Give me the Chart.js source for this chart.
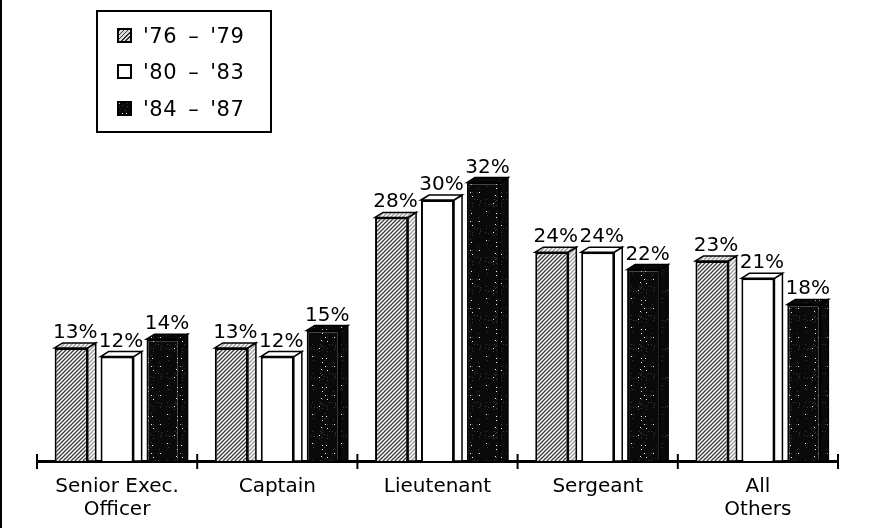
<!DOCTYPE html>
<html><head><meta charset="utf-8">
<script src="https://cdn.jsdelivr.net/npm/chart.js@4.4.0/dist/chart.umd.min.js"></script>
<style>
html,body{margin:0;padding:0;background:#fff;}
#wrap{position:relative;width:875px;height:528px;overflow:hidden;}
#edge{position:absolute;left:0;top:0;width:2px;height:528px;background:#000;}
#legend{position:absolute;left:96px;top:10px;width:176px;height:123px;box-sizing:border-box;border:2px solid #000;font-family:"DejaVu Sans",sans-serif;font-size:21px;color:#000;}
.row{position:absolute;left:19px;height:24px;width:150px;}
.sw{position:absolute;left:0;top:4px;width:11px;height:11px;border:2px solid #000;}
.tx{position:absolute;left:26px;top:0;line-height:24px;white-space:nowrap;letter-spacing:0.5px;word-spacing:4px;}
</style></head>
<body><div id="wrap"><canvas id="c" width="875" height="528"></canvas><div id="edge"></div><div id="legend"></div></div>
<script>
const categories = [["Senior Exec.","Officer"],"Captain","Lieutenant","Sergeant",["All","Others"]];
const seriesNames = ["'76 – '79","'80 – '83","'84 – '87"];
const values7679 = [13,13,28,24,23];
const values8083 = [12,12,30,24,21];
const values8487 = [14,15,32,22,18];

function hatchPattern(bg, line){
  const c=document.createElement('canvas'); c.width=c.height=4;
  const g=c.getContext('2d'); g.fillStyle=bg; g.fillRect(0,0,4,4);
  g.strokeStyle=line; g.lineWidth=1.3; g.beginPath();
  g.moveTo(0,4); g.lineTo(4,0); g.moveTo(-1,1); g.lineTo(1,-1); g.moveTo(3,5); g.lineTo(5,3); g.stroke();
  return g.createPattern(c,'repeat');
}
function stippleCanvas(){
  const n=29;
  const c=document.createElement('canvas'); c.width=c.height=n;
  const g=c.getContext('2d'); g.fillStyle='#0a0a0a'; g.fillRect(0,0,n,n);
  for(let i=0;i<n;i++){for(let j=0;j<n;j++){
    const k=(i*i*13+j*j*7+i*j*5+i*3)%61;
    if(k===0){g.fillStyle='#f0f0f0';g.fillRect(i,j,1,1);}
    else if(k<3){g.fillStyle='#3c3c3c';g.fillRect(i,j,1,1);}
  }}
  return c;
}
const stip=stippleCanvas();
const stipPat=stip.getContext('2d').createPattern(stip,'repeat');
const fronts=[hatchPattern('#fff','#3a3a3a'), '#ffffff', stipPat];
const sides=[hatchPattern('#fff','#999'), '#ffffff', stipPat];

// legend
const leg=document.getElementById('legend');
const swBg=["repeating-linear-gradient(135deg,#333 0 1px,#ddd 1px 3px)","#fff","url("+stip.toDataURL()+")"];
seriesNames.forEach((n,i)=>{
  const r=document.createElement('div'); r.className='row'; r.style.top=(11.5+i*36.5)+'px';
  const s=document.createElement('span'); s.className='sw'; s.style.background=swBg[i];
  const t=document.createElement('span'); t.className='tx'; t.textContent=n;
  r.appendChild(s); r.appendChild(t); leg.appendChild(r);
});

const DX=8, DY=5;
const bar3d={
  id:'bar3d',
  afterDatasetsDraw(chart){
    const ctx=chart.ctx;
    chart.data.datasets.forEach((ds,di)=>{
      const meta=chart.getDatasetMeta(di);
      meta.data.forEach((el,i)=>{
        const p=el.getProps(['x','y','base','width'],true);
        const l=p.x-p.width/2, r=p.x+p.width/2, t=p.y, b=p.base;
        ctx.save();
        ctx.lineWidth=1.5; ctx.strokeStyle='#000'; ctx.lineJoin='miter';
        ctx.fillStyle=sides[di];
        ctx.beginPath(); ctx.moveTo(r,t); ctx.lineTo(r+DX,t-DY); ctx.lineTo(r+DX,b); ctx.lineTo(r,b); ctx.closePath(); ctx.fill(); ctx.stroke();
        ctx.beginPath(); ctx.moveTo(l,t); ctx.lineTo(l+DX,t-DY); ctx.lineTo(r+DX,t-DY); ctx.lineTo(r,t); ctx.closePath(); ctx.fill(); ctx.stroke();
        ctx.fillStyle='#000'; ctx.font='20px "DejaVu Sans", sans-serif';
        ctx.textAlign='center'; ctx.textBaseline='alphabetic';
        ctx.fillText(ds.data[i]+'%', p.x+DX/2, t-DY-5);
        ctx.restore();
      });
    });
    // tick marks crossing the axis
    const xs=chart.scales.x, yb=chart.chartArea.bottom;
    ctx.save(); ctx.strokeStyle='#000'; ctx.lineWidth=2;
    for(let i=0;i<=categories.length;i++){
      const x=xs.left+(xs.right-xs.left)*i/categories.length;
      ctx.beginPath(); ctx.moveTo(x,yb-7); ctx.lineTo(x,yb+8); ctx.stroke();
    }
    ctx.restore();
  }
};

new Chart(document.getElementById('c'),{
  type:'bar',
  data:{labels:categories,datasets:[
    {label:seriesNames[0],data:values7679,backgroundColor:fronts[0]},
    {label:seriesNames[1],data:values8083,backgroundColor:fronts[1]},
    {label:seriesNames[2],data:values8487,backgroundColor:fronts[2]}
  ].map(d=>Object.assign(d,{borderColor:'#000',borderWidth:2,borderSkipped:'bottom',categoryPercentage:0.86,barPercentage:0.72}))},
  options:{
    responsive:false,animation:false,
    layout:{padding:{top:113,left:37,right:37,bottom:0}},
    plugins:{legend:{display:false},tooltip:{enabled:false}},
    scales:{
      y:{display:false,min:0,max:40},
      x:{
        afterFit(s){s.height=67;},
        border:{display:true,color:'#000',width:3},
        grid:{display:false},
        ticks:{color:'#000',font:{family:'"DejaVu Sans", sans-serif',size:20,lineHeight:1.15},padding:6,maxRotation:0,autoSkip:false}
      }
    }
  },
  plugins:[bar3d]
});
</script></body></html>
